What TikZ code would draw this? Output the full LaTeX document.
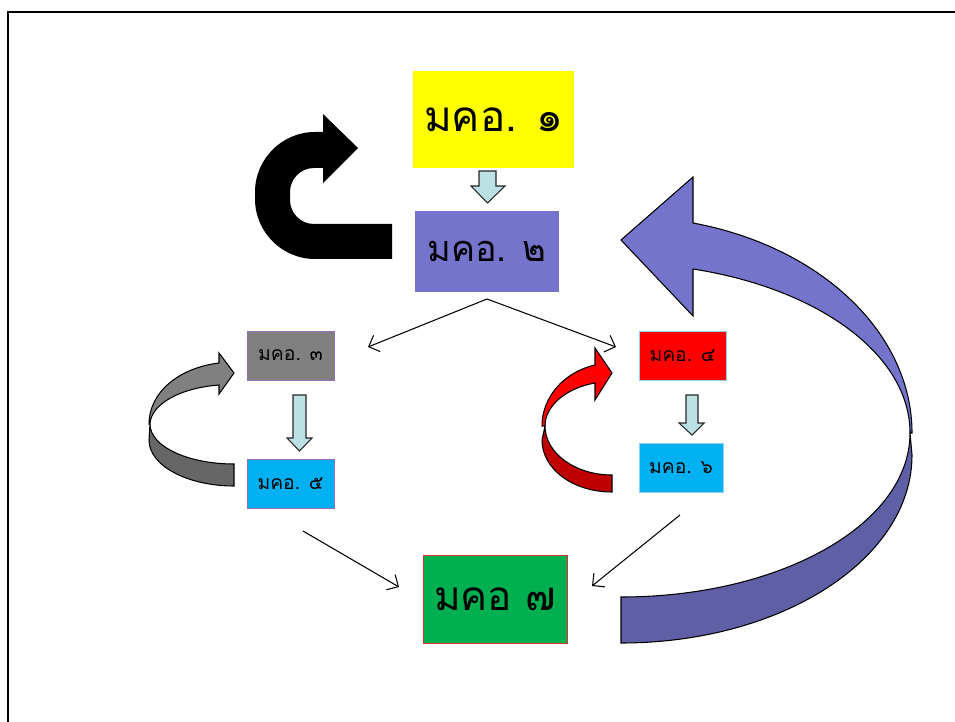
\documentclass[tikz,border=0pt]{standalone}
\usepackage{fontspec}
\newfontfamily\thaifont[Script=Thai]{Loma}
\usetikzlibrary{arrows.meta}

\definecolor{mkoyellow}{HTML}{FFFF00}
\definecolor{mkoviolet}{HTML}{7474CC}
\definecolor{mkogray}{HTML}{808080}
\definecolor{mkocyan}{HTML}{00B0F0}
\definecolor{mkored}{HTML}{FF0000}
\definecolor{mkogreen}{HTML}{00B050}
\definecolor{edgepurple}{HTML}{9470C0}
\definecolor{edgesky}{HTML}{8DD3F5}
\definecolor{edgered}{HTML}{E03030}
\definecolor{stepfill}{HTML}{BCE1E4}
\definecolor{loopgray}{HTML}{666666}
\definecolor{loopred}{HTML}{C00000}
\definecolor{loopviolet}{HTML}{5F5FA6}

\begin{document}
\begin{tikzpicture}[x=0.02cm, y=-0.02cm,
  mko/.style={rectangle, inner sep=0pt, font=\thaifont},
  bigbox/.style={mko, minimum width=#1, minimum height=1.62cm},
  smallbox/.style={mko, minimum width=1.74cm, minimum height=0.98cm},
  link/.style={-{Straight Barb[length=5pt,width=10pt]}, line width=0.6pt},
  stepdown/.style={draw=black!85, fill=stepfill, line width=0.6pt},
  loopfront/.style={draw=black, fill=#1, line width=0.6pt},
  loopback/.style={draw=black, fill=#1, line width=0.6pt}]
\useasboundingbox (0,0) rectangle (955,722);

% frame
\draw[line width=1.2pt] (8,722) -- (8,12) -- (955,12);

% the seven boxes
\node[bigbox=3.22cm, minimum height=1.94cm, fill=mkoyellow] (m1) at (493.5,119.5) {\fontsize{24}{28}\selectfont มคอ. ๑};
\node[bigbox=2.88cm, fill=mkoviolet] (m2) at (487,251.5) {\fontsize{20.5}{24}\selectfont มคอ. ๒};
\node[smallbox, fill=mkogray, draw=edgepurple] (m3) at (290.5,355.5) {\fontsize{11}{13}\selectfont มคอ. ๓};
\node[smallbox, fill=mkored, draw=edgesky] (m4) at (682.5,355.5) {\fontsize{11}{13}\selectfont มคอ. ๔};
\node[smallbox, fill=mkocyan, draw=edgepurple] (m5) at (290.5,483.5) {\fontsize{11}{13}\selectfont มคอ. ๕};
\node[smallbox, minimum width=1.68cm, fill=mkocyan, draw=edgesky] (m6) at (681,467.5) {\fontsize{11}{13}\selectfont มคอ. ๖};
\node[bigbox=2.88cm, minimum height=1.76cm, fill=mkogreen, draw=edgered] (m7) at (495,599) {\fontsize{23}{27}\selectfont มคอ ๗};

% block arrows down
\draw[stepdown] (479,171) -- (496,171) -- (496,186) -- (505,186) -- (487.5,203) -- (471,186) -- (479,186) -- cycle;
\draw[stepdown] (293,395) -- (306,395) -- (306,438) -- (312,438) -- (299.5,451) -- (287,438) -- (293,438) -- cycle;
\draw[stepdown] (686,395) -- (698,395) -- (698,423) -- (704,423) -- (692,435) -- (679,423) -- (686,423) -- cycle;

% thin connectors
\coordinate (split) at (487,299);
\coordinate (to3) at (368,347);
\coordinate (to4) at (616,347);
\coordinate (from5) at (303,531);
\coordinate (from6) at (680,515);
\coordinate (to7l) at (399,587);
\coordinate (to7r) at (592,586);
\draw[link] (split) -- (to3);
\draw[link] (split) -- (to4);
\draw[link] (from5) -- (to7l);
\draw[link] (from6) -- (to7r);

% black u-turn
\fill[black] (392,259) -- (315,259) .. controls (282,259) and (255,232) .. (255,199) -- (255,192)
  .. controls (255,159) and (282,132) .. (315,132) -- (323,132) -- (323,114) -- (358,148)
  -- (323,183) -- (323,168) -- (314,168) .. controls (300.7,168) and (290,178.7) .. (290,192)
  -- (290,200) .. controls (290,213.3) and (300.7,224) .. (314,224) -- (392,224) -- cycle;

% gray loop 5 -> 3
\draw[loopback=loopgray] (150,424) .. controls (150,447) and (189,464) .. (234,464) -- (234,486)
  .. controls (188,486) and (149,466) .. (149,440) -- cycle;
\draw[loopfront=mkogray] (149,424) .. controls (149,393) and (178,368) .. (219,363) -- (219,353)
  -- (234,373) -- (219,394) -- (219,385) .. controls (180,388) and (151,404) .. (150,424) -- cycle;

% red loop 6 -> 4
\draw[loopback=loopred] (545,426) .. controls (545,453) and (575,475) .. (612,475) -- (612,492)
  .. controls (573,492) and (542,469) .. (542,440) -- cycle;
\draw[loopfront=mkored] (542,426) .. controls (542,397) and (564,372) .. (595,365) -- (595,348)
  -- (612,373) -- (595,400) -- (595,383) .. controls (566,388) and (545,406) .. (545,426) -- cycle;

% big violet loop 7 -> 2
\draw[loopback=loopviolet] (910,433) .. controls (910,524) and (781,597) .. (621,597) -- (621,643)
  .. controls (782,643) and (912,559) .. (912,455) -- cycle;
\draw[loopfront=mkoviolet] (912,433) .. controls (912,334) and (822,247) .. (693,223) -- (693,177)
  -- (621,240) -- (693,316) -- (693,269) .. controls (821,289) and (910,356) .. (910,433) -- cycle;
\end{tikzpicture}
\end{document}
